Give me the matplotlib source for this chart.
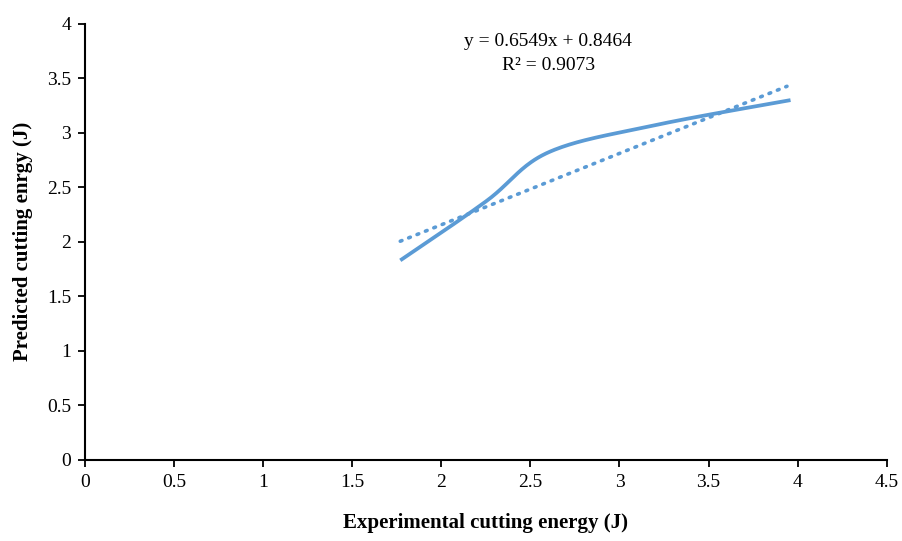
import matplotlib
matplotlib.use("Agg")
import matplotlib.pyplot as plt
import numpy as np

exp_energy = [1.77, 2.25, 2.60, 3.20, 3.96]
pred_energy = [1.83, 2.37, 2.82, 3.07, 3.30]

# Excel linear trendline
slope = 0.6549
intercept = 0.8464
r2 = 0.9073

xticks = [0, 0.5, 1, 1.5, 2, 2.5, 3, 3.5, 4, 4.5]
yticks = [0, 0.5, 1, 1.5, 2, 2.5, 3, 3.5, 4]


def smooth_curve(x, y, n=40):
    """Catmull-Rom spline, close to Excel's smoothed line"""
    x = np.asarray(x, float)
    y = np.asarray(y, float)
    px = np.concatenate([[x[0]], x, [x[-1]]])
    py = np.concatenate([[y[0]], y, [y[-1]]])
    xs, ys = [], []
    t = np.linspace(0, 1, n)
    for i in range(1, len(px) - 2):
        p0, p1, p2, p3 = (np.array([px[j], py[j]]) for j in range(i - 1, i + 3))
        c1 = p1 + (p2 - p0) / 6
        c2 = p2 - (p3 - p1) / 6
        pts = ((1 - t) ** 3)[:, None] * p1 + (3 * (1 - t) ** 2 * t)[:, None] * c1 \
            + (3 * (1 - t) * t ** 2)[:, None] * c2 + (t ** 3)[:, None] * p2
        xs.extend(pts[:, 0])
        ys.extend(pts[:, 1])
    return np.array(xs), np.array(ys)


plt.rcParams['font.family'] = ['Liberation Serif', 'DejaVu Serif']

fig = plt.figure(figsize=(9.03, 5.41), dpi=100)
ax = fig.add_axes([0.094, 0.150, 0.888, 0.806])

blue = '#5B9BD5'
sx, sy = smooth_curve(exp_energy, pred_energy)
ax.plot(sx, sy, color=blue, lw=2.7, solid_capstyle='butt', zorder=3)

tx = np.array([exp_energy[0], exp_energy[-1] - 0.02])
ax.plot(tx, slope * tx + intercept, color=blue, lw=2.6,
        linestyle=(0, (0.5, 2.0)), dash_capstyle='round', zorder=2)

ax.text(0.578, 0.98, 'y = %.4fx + %.4f\nR² = %.4f' % (slope, intercept, r2),
        transform=ax.transAxes, ha='center', va='top', fontsize=14,
        linespacing=1.55)

ax.set_xlim(0, 4.5)
ax.set_ylim(0, 4)
ax.set_xticks(xticks)
ax.set_yticks(yticks)
ax.set_xticklabels(['%g' % v for v in xticks])
ax.set_yticklabels(['%g' % v for v in yticks])
ax.tick_params(direction='out', length=5, width=1.3, labelsize=14, pad=5)

for side in ['top', 'right']:
    ax.spines[side].set_visible(False)
for side in ['left', 'bottom']:
    ax.spines[side].set_linewidth(1.5)

ax.set_xlabel('Experimental cutting energy (J)', fontsize=15, fontweight='bold', labelpad=16)
ax.set_ylabel('Predicted cutting enrgy (J)', fontsize=15, fontweight='bold', labelpad=10)

fig.savefig('out.png', dpi=100)
